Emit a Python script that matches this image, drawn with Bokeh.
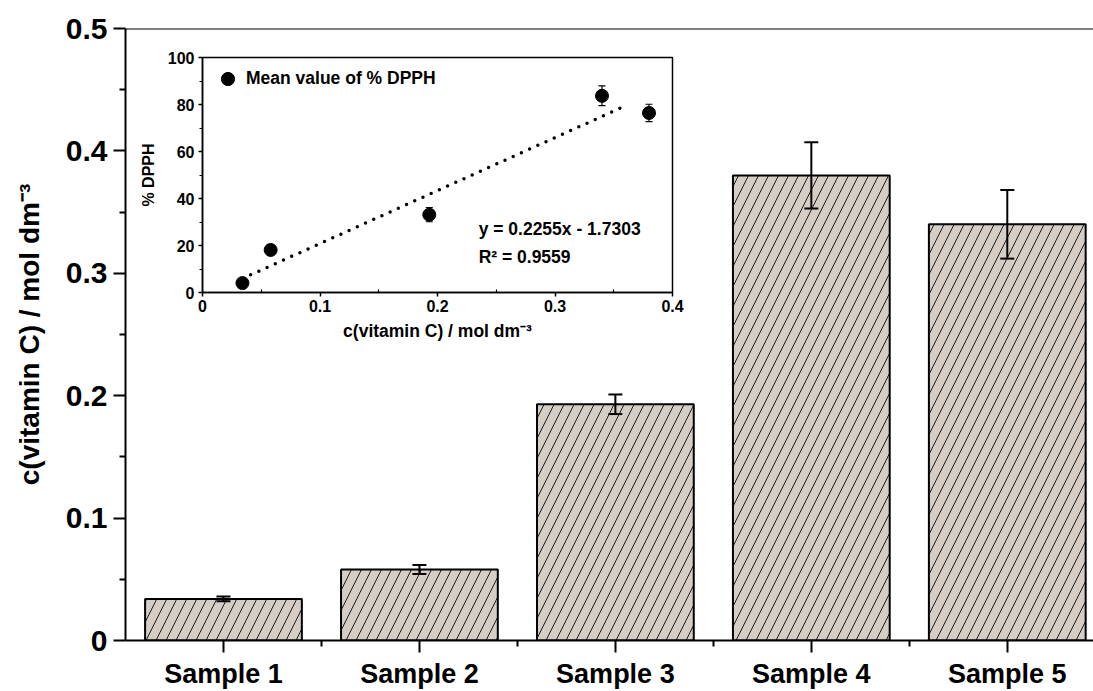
from bokeh.plotting import figure
from bokeh.models import (ColumnDataSource, Whisker, TeeHead, FixedTicker,
                          NumeralTickFormatter, Span, Label, Range1d)
from bokeh.layouts import column
from bokeh.embed import file_html
from bokeh.resources import INLINE

# ---------------- data ----------------
samples = ["Sample 1", "Sample 2", "Sample 3", "Sample 4", "Sample 5"]
vitc = [0.034, 0.058, 0.193, 0.380, 0.340]
vitc_err = [0.002, 0.0037, 0.008, 0.027, 0.028]
y_ticks = [0, 0.1, 0.2, 0.3, 0.4, 0.5]
y_minor = [0.05, 0.15, 0.25, 0.35, 0.45]
y_label = "c(vitamin C) / mol dm\u207b\u00b3"

inset_c = [0.034, 0.058, 0.193, 0.340, 0.380]
inset_dpph = [4.0, 18.1, 33.1, 83.7, 76.4]
inset_err = [1.0, 2.0, 3.0, 4.2, 3.7]
inset_x_ticks = [0, 0.1, 0.2, 0.3, 0.4]
inset_x_minor = [0.05, 0.15, 0.25, 0.35]
inset_y_ticks = [0, 20, 40, 60, 80, 100]
inset_y_minor = [10, 30, 50, 70, 90]
fit_slope = 0.2255          # per mmol dm-3
fit_intercept = -1.7303
fit_x = [0.034, 0.362]
fit_eq = "y = 0.2255x - 1.7303"
fit_r2 = "R\u00b2 =  0.9559"
legend_text = "Mean value of % DPPH"
inset_y_label = "% DPPH"
inset_x_label = "c(vitamin C) / mol dm\u207b\u00b3"

FONT = "Liberation Sans"
BAR_FILL = "#d6cdc5"

# ---------------- main chart ----------------
xpos = [i + 1 for i in range(len(samples))]
src = ColumnDataSource(dict(
    x=xpos, top=vitc,
    upper=[v + e for v, e in zip(vitc, vitc_err)],
    lower=[v - e for v, e in zip(vitc, vitc_err)],
))

p = figure(width=1093, height=691, x_range=Range1d(0.5, 5.44), y_range=Range1d(0, 0.5),
           output_backend="svg", toolbar_location=None,
           min_border_left=125, min_border_top=28, min_border_bottom=48, min_border_right=0)
p.outline_line_color = None
p.grid.visible = False
p.background_fill_color = "white"
p.border_fill_color = "white"

p.vbar(x="x", top="top", bottom=0, width=0.8, source=src,
       fill_color=BAR_FILL, line_color="black", line_width=2,
       hatch_pattern="right_diagonal_line", hatch_color="#1a1a1a",
       hatch_scale=20, hatch_weight=1)

w = Whisker(base="x", upper="upper", lower="lower", source=src,
            line_color="black", line_width=2, level="annotation",
            upper_head=TeeHead(size=14, line_width=2, line_color="black"),
            lower_head=TeeHead(size=14, line_width=2, line_color="black"))
p.add_layout(w)

p.add_layout(Span(location=y_ticks[-1], dimension="width", line_color="black", line_width=2))

yax = p.yaxis[0]
yax.ticker = FixedTicker(ticks=y_ticks, minor_ticks=y_minor)
yax.formatter = NumeralTickFormatter(format="0.[0]")
yax.major_label_text_font = FONT
yax.major_label_text_font_style = "bold"
yax.major_label_text_font_size = "30px"
yax.major_label_text_color = "black"
yax.major_label_standoff = 6
yax.major_tick_out = 12
yax.major_tick_in = 0
yax.minor_tick_out = 6
yax.minor_tick_in = 0
yax.axis_line_width = 2
yax.major_tick_line_width = 2
yax.minor_tick_line_width = 2
yax.axis_label = y_label
yax.axis_label_text_font = FONT
yax.axis_label_text_font_style = "bold"
yax.axis_label_text_font_size = "28px"
yax.axis_label_text_color = "black"
yax.axis_label_standoff = 18

xax = p.xaxis[0]
xax.ticker = FixedTicker(ticks=xpos, minor_ticks=[x + 0.5 for x in xpos[:-1]])
xax.major_label_overrides = {x: s for x, s in zip(xpos, samples)}
xax.major_label_text_font = FONT
xax.major_label_text_font_style = "bold"
xax.major_label_text_font_size = "27px"
xax.major_label_text_color = "black"
xax.major_label_standoff = 6
xax.major_tick_out = 12
xax.major_tick_in = 0
xax.minor_tick_out = 6
xax.minor_tick_in = 0
xax.axis_line_width = 2
xax.major_tick_line_width = 2
xax.minor_tick_line_width = 2

# ---------------- inset ----------------
isrc = ColumnDataSource(dict(
    x=inset_c, y=inset_dpph,
    upper=[v + e for v, e in zip(inset_dpph, inset_err)],
    lower=[v - e for v, e in zip(inset_dpph, inset_err)],
))

q = figure(width=549, height=304, x_range=Range1d(inset_x_ticks[0], inset_x_ticks[-1]),
           y_range=Range1d(inset_y_ticks[0], inset_y_ticks[-1]),
           output_backend="svg", toolbar_location=None,
           min_border_left=67, min_border_top=11, min_border_bottom=58, min_border_right=12)
q.grid.visible = False
q.outline_line_color = "black"
q.outline_line_width = 1.5
q.background_fill_color = "white"
q.border_fill_color = "white"

fit_y = [fit_slope * 1000 * x + fit_intercept for x in fit_x]
q.line(fit_x, fit_y, line_color="black", line_width=3.5, line_dash="0 9", line_cap="round")

iw = Whisker(base="x", upper="upper", lower="lower", source=isrc,
             line_color="black", line_width=1.2,
             upper_head=TeeHead(size=7, line_width=1.2, line_color="black"),
             lower_head=TeeHead(size=7, line_width=1.2, line_color="black"))
q.add_layout(iw)

q.scatter("x", "y", source=isrc, size=13, fill_color="black", line_color="black",
          legend_label=legend_text)

lg = q.legend[0]
lg.location = (9, 197)
lg.glyph_width = 33
lg.glyph_height = 33
lg.label_height = 33
lg.label_standoff = 2
lg.padding = 0
lg.margin = 0
lg.spacing = 0
lg.border_line_color = None
lg.background_fill_alpha = 0
lg.label_text_font = FONT
lg.label_text_font_style = "bold"
lg.label_text_font_size = "17.5px"
lg.label_text_color = "black"

for txt, yv in ((fit_eq, 27.2), (fit_r2, 14.9)):
    q.add_layout(Label(x=0.235, y=yv, text=txt, text_baseline="middle",
                       text_font=FONT, text_font_style="bold", text_font_size="17.5px",
                       text_color="black"))

qx = q.xaxis[0]
qx.ticker = FixedTicker(ticks=inset_x_ticks, minor_ticks=inset_x_minor)
qx.formatter = NumeralTickFormatter(format="0.[0]")
qx.major_tick_out = 4
qx.major_tick_in = 0
qx.minor_tick_out = 0
qx.minor_tick_in = 3
qx.major_label_standoff = 3
qx.axis_label = inset_x_label
qx.axis_label_standoff = 6
qx.axis_label_text_font_size = "17.5px"
qy = q.yaxis[0]
qy.ticker = FixedTicker(ticks=inset_y_ticks, minor_ticks=inset_y_minor)
qy.major_tick_out = 4
qy.major_tick_in = 0
qy.minor_tick_out = 3
qy.minor_tick_in = 0
qy.major_label_standoff = 4
qy.axis_label = inset_y_label
qy.axis_label_standoff = 8
qy.axis_label_text_font_size = "16px"
for ax in (qx, qy):
    ax.major_label_text_font = FONT
    ax.major_label_text_font_style = "bold"
    ax.major_label_text_font_size = "16px"
    ax.major_label_text_color = "black"
    ax.axis_label_text_font = FONT
    ax.axis_label_text_font_style = "bold"
    ax.axis_label_text_color = "black"
    ax.axis_line_width = 1.5
    ax.major_tick_line_width = 1.5
    ax.minor_tick_line_width = 1.2

# overlay inset on the main chart (inset canvas at page x=135, y=46);
# wrapped in its own column so its borders are not aligned with the main plot
inner = column(q, spacing=0)
inner.margin = (46 - 691, 0, 691 - 46 - 304, 135)

layout = column(p, inner, spacing=0)
open("out.html", "w").write(file_html(layout, INLINE))
